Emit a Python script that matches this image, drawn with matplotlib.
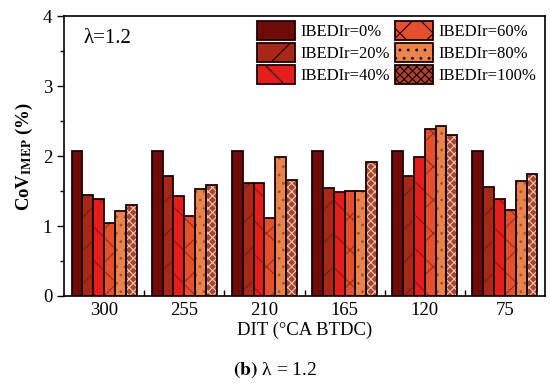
import matplotlib
matplotlib.use("Agg")
import matplotlib.pyplot as plt
import numpy as np
from matplotlib.patches import Patch

categories = ["300", "255", "210", "165", "120", "75"]
series_labels = ["IBEDIr=0%", "IBEDIr=20%", "IBEDIr=40%", "IBEDIr=60%", "IBEDIr=80%", "IBEDIr=100%"]
ibedir_0 = [2.07, 2.07, 2.07, 2.07, 2.07, 2.07]
ibedir_20 = [1.45, 1.71, 1.61, 1.54, 1.71, 1.56]
ibedir_40 = [1.38, 1.43, 1.61, 1.48, 1.98, 1.38]
ibedir_60 = [1.05, 1.15, 1.11, 1.50, 2.38, 1.23]
ibedir_80 = [1.22, 1.53, 1.99, 1.50, 2.43, 1.65]
ibedir_100 = [1.30, 1.58, 1.66, 1.92, 2.30, 1.74]
series = [ibedir_0, ibedir_20, ibedir_40, ibedir_60, ibedir_80, ibedir_100]

faces = ["#6E0A08", "#A82818", "#E41E1A", "#E4502E", "#E8844C", "#A84432"]
hatches = [None, "/", "\\", "x", "..", "xxxx"]
hatch_cols = ["#6E0A08", "#7A1A10", "#9A1410", "#A02A18", "#A8502A", "#F0C8A8"]

plt.rcParams["font.family"] = ["Liberation Serif", "DejaVu Serif"]
plt.rcParams["mathtext.fontset"] = "stix"
plt.rcParams["hatch.linewidth"] = 0.8

fig = plt.figure(figsize=(5.5, 3.83), dpi=100)
ax = fig.add_axes([0.1164, 0.2272, 0.8746, 0.7308])

x = np.arange(len(categories))
w = 0.135
for i, vals in enumerate(series):
    pos = x + (i - 2.5) * w
    ax.bar(pos, vals, w, color=faces[i], hatch=hatches[i], edgecolor=hatch_cols[i], linewidth=0, zorder=2)
    ax.bar(pos, vals, w, fill=False, edgecolor="#1a0000", linewidth=1.3, zorder=3)

ax.set_xlim(-0.5, len(categories) - 0.5)
ax.set_ylim(0, 4)
ax.set_yticks([0, 1, 2, 3, 4])
ax.set_yticks([0.5, 1.5, 2.5, 3.5], minor=True)
ax.set_xticks(x)
ax.set_xticklabels(categories, fontsize=13.5)
ax.set_xticks(np.arange(len(categories) - 1) + 0.5, minor=True)
ax.tick_params(axis="x", which="major", length=0, pad=4)
ax.tick_params(axis="x", which="minor", direction="in", length=4, width=1)
ax.tick_params(axis="y", which="major", direction="out", length=5, width=1, labelsize=13.5)
ax.tick_params(axis="y", which="minor", direction="out", length=3, width=1)
for s in ax.spines.values():
    s.set_linewidth(1.2)

ax.set_ylabel(r"CoV$_{\mathbf{IMEP}}$ (%)", fontsize=13.5, fontweight="bold", labelpad=6)
ax.set_xlabel("DIT (°CA BTDC)", fontsize=13.5, labelpad=2)

ax.text(0.04, 0.92, "λ=1.2", transform=ax.transAxes, fontsize=15, va="center", ha="left")

handles = []
for i in range(6):
    handles.append(Patch(facecolor=faces[i], hatch=hatches[i], edgecolor="#1a0000", linewidth=1.3))
leg = ax.legend(handles, series_labels, ncol=2, loc="upper right", bbox_to_anchor=(0.995, 1.005),
                frameon=False, fontsize=12, handlelength=2.3, handleheight=1.3,
                columnspacing=0.3, handletextpad=0.3, labelspacing=0.2, borderaxespad=0.2,
                borderpad=0.2)

fig.text(0.5, 0.035, r"$\mathbf{(b)}$ λ = 1.2", ha="center", va="center", fontsize=14)

fig.savefig("out.png", dpi=100)
